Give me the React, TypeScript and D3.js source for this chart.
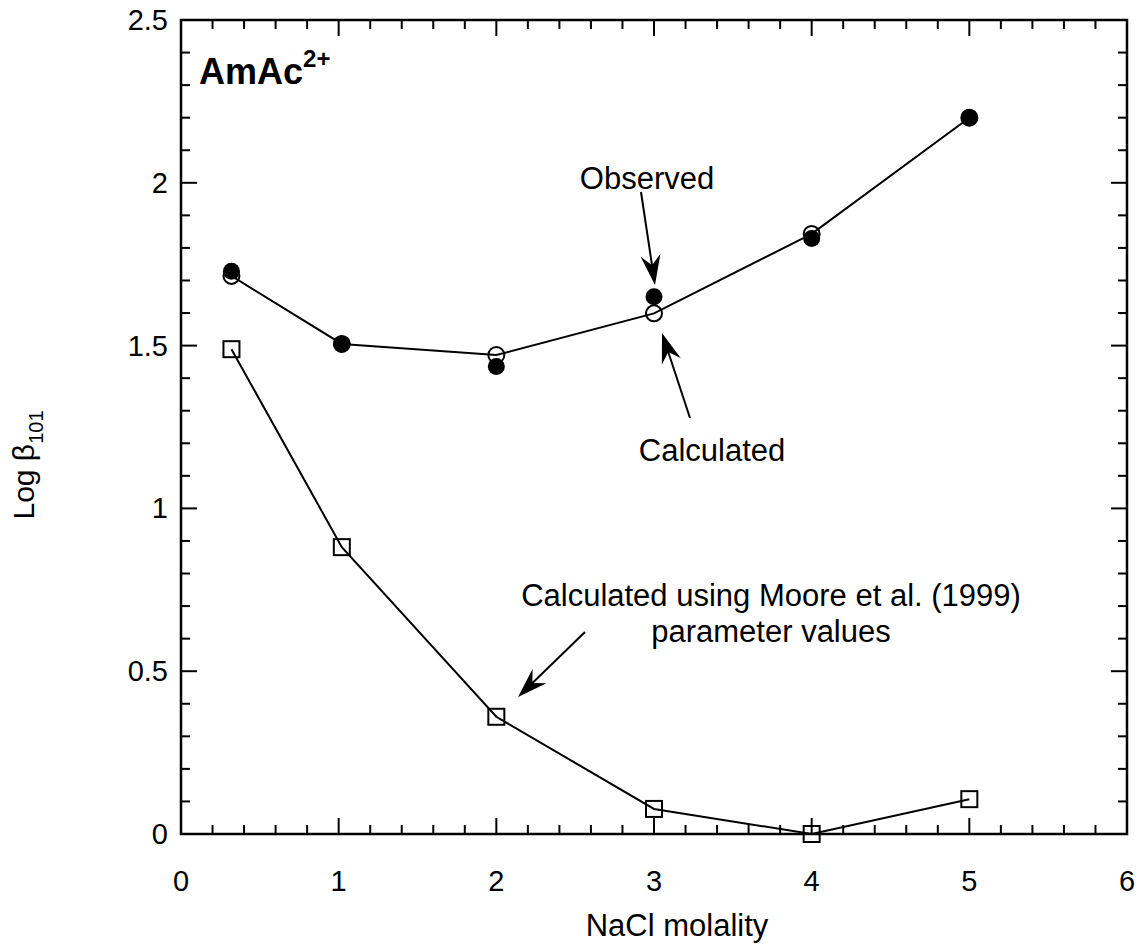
import React from "react";
import * as d3 from "d3";

const naclX = [0.32, 1.02, 2, 3, 4, 5];
const observed = [1.728, 1.505, 1.436, 1.65, 1.829, 2.2];
const calculated = [1.714, 1.505, 1.471, 1.599, 1.843, 2.2];
const moore = [1.489, 0.881, 0.36, 0.077, 0.0, 0.107];
const xTicks = [0, 1, 2, 3, 4, 5, 6];
const yTicks = [0, 0.5, 1, 1.5, 2, 2.5];
const yTickLabels = ["0", "0.5", "1", "1.5", "2", "2.5"];

const W = 1139, H = 947;
const L = 181, R = 1127, T = 20, B = 834;
const FONT = "'Liberation Sans', Arial, Helvetica, sans-serif";

function arrowHead(x1: number, y1: number, x2: number, y2: number) {
  const a = Math.atan2(y2 - y1, x2 - x1);
  const len = 30, hw = 10, notch = 20;
  const ux = Math.cos(a), uy = Math.sin(a);
  const px = -uy, py = ux;
  const bx = x2 - ux * len, by = y2 - uy * len;
  const nx = x2 - ux * notch, ny = y2 - uy * notch;
  return `M${x2},${y2}L${bx + px * hw},${by + py * hw}L${nx},${ny}L${bx - px * hw},${by - py * hw}Z`;
}

export default function App() {
  const x = d3.scaleLinear().domain([0, 6]).range([L, R]);
  const y = d3.scaleLinear().domain([0, 2.5]).range([B, T]);
  const line = d3.line<[number, number]>().x(d => x(d[0])).y(d => y(d[1]));
  const calcPts: [number, number][] = naclX.map((v, i) => [v, calculated[i]]);
  const moorePts: [number, number][] = naclX.map((v, i) => [v, moore[i]]);

  const xMinor = d3.range(0, 6.0001, 0.2);
  const yMinor = d3.range(0, 2.5001, 0.1);
  const isMajor = (v: number, step: number) => Math.abs(v / step - Math.round(v / step)) < 1e-6;

  const arrows = [
    { x1: 641, y1: 192, x2: 655, y2: 285 },
    { x1: 690, y1: 418, x2: 662, y2: 333 },
    { x1: 585, y1: 632, x2: 518, y2: 697 },
  ];

  return (
    <svg width={W} height={H} style={{ position: "absolute", left: 0, top: 0, background: "#fff" }} fontFamily={FONT}>
      <rect x={0} y={0} width={W} height={H} fill="#fff" />
      {/* ticks */}
      {xMinor.map((v, i) => {
        const len = isMajor(v, 1) ? 16 : 9;
        return (
          <g key={"xt" + i} stroke="#000" strokeWidth={2}>
            <line x1={x(v)} x2={x(v)} y1={B} y2={B - len} />
            <line x1={x(v)} x2={x(v)} y1={T} y2={T + len} />
          </g>
        );
      })}
      {yMinor.map((v, i) => {
        const len = isMajor(v, 0.5) ? 16 : 9;
        return (
          <g key={"yt" + i} stroke="#000" strokeWidth={2}>
            <line x1={L} x2={L + len} y1={y(v)} y2={y(v)} />
            <line x1={R} x2={R - len} y1={y(v)} y2={y(v)} />
          </g>
        );
      })}
      <rect x={L} y={T} width={R - L} height={B - T} fill="none" stroke="#000" strokeWidth={2.5} />
      {/* tick labels */}
      {xTicks.map(v => (
        <text key={"xl" + v} x={x(v)} y={891} fontSize={29} textAnchor="middle">{v}</text>
      ))}
      {yTicks.map((v, i) => (
        <text key={"yl" + v} x={L - 13} y={y(v) + 10} fontSize={29} textAnchor="end">{yTickLabels[i]}</text>
      ))}
      {/* axis titles */}
      <text x={677} y={936} fontSize={31} textAnchor="middle">NaCl molality</text>
      <text transform="translate(34,465) rotate(-90)" fontSize={30} textAnchor="middle">
        Log β<tspan fontSize={20} dy={9}>101</tspan>
      </text>
      {/* lines */}
      <path d={line(calcPts) || ""} fill="none" stroke="#000" strokeWidth={2} />
      <path d={line(moorePts) || ""} fill="none" stroke="#000" strokeWidth={2} />
      {/* open circles */}
      {calcPts.map((d, i) => (
        <circle key={"oc" + i} cx={x(d[0])} cy={y(d[1])} r={8} fill="none" stroke="#000" strokeWidth={2} />
      ))}
      {/* filled circles */}
      {naclX.map((v, i) => (
        <circle key={"fc" + i} cx={x(v)} cy={y(observed[i])} r={8.5} fill="#000" />
      ))}
      {/* squares */}
      {moorePts.map((d, i) => (
        <rect key={"sq" + i} x={x(d[0]) - 8} y={y(d[1]) - 8} width={16} height={16} fill="none" stroke="#000" strokeWidth={2} />
      ))}
      {/* arrows */}
      {arrows.map((a, i) => (
        <g key={"ar" + i}>
          <line x1={a.x1} y1={a.y1} x2={a.x1 + (a.x2 - a.x1) * 0.85} y2={a.y1 + (a.y2 - a.y1) * 0.85} stroke="#000" strokeWidth={2} />
          <path d={arrowHead(a.x1, a.y1, a.x2, a.y2)} fill="#000" />
        </g>
      ))}
      {/* annotations */}
      <text x={199} y={84} fontSize={36} fontWeight="bold">
        AmAc<tspan fontSize={24} dy={-17}>2+</tspan>
      </text>
      <text x={647} y={189} fontSize={31} textAnchor="middle">Observed</text>
      <text x={712} y={461} fontSize={31} textAnchor="middle">Calculated</text>
      <text x={771} y={606} fontSize={31} textAnchor="middle">Calculated using Moore et al. (1999)</text>
      <text x={771} y={642} fontSize={31} textAnchor="middle">parameter values</text>
    </svg>
  );
}
